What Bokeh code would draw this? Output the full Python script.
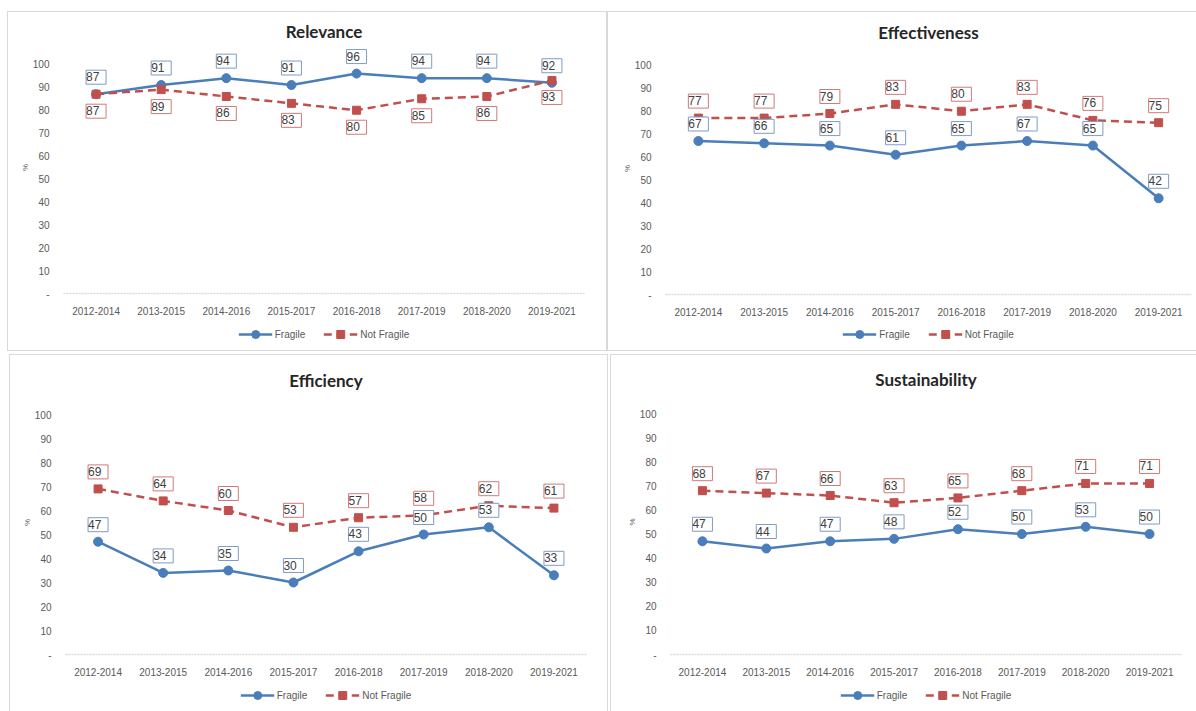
from bokeh.plotting import figure
from bokeh.models import (ColumnDataSource, FactorRange, Range1d, FixedTicker,
                          Legend, LegendItem, LabelSet)
from bokeh.layouts import column, row
from bokeh.embed import file_html
from bokeh.resources import INLINE
from bokeh.core.properties import value

# ---------------- data ----------------
periods = ["2012-2014", "2013-2015", "2014-2016", "2015-2017",
           "2016-2018", "2017-2019", "2018-2020", "2019-2021"]

relevance_fragile = [87, 91, 94, 91, 96, 94, 94, 92]
relevance_not_fragile = [87, 89, 86, 83, 80, 85, 86, 93]

effectiveness_fragile = [67, 66, 65, 61, 65, 67, 65, 42]
effectiveness_not_fragile = [77, 77, 79, 83, 80, 83, 76, 75]

efficiency_fragile = [47, 34, 35, 30, 43, 50, 53, 33]
efficiency_not_fragile = [69, 64, 60, 53, 57, 58, 62, 61]

sustainability_fragile = [47, 44, 47, 48, 52, 50, 53, 50]
sustainability_not_fragile = [68, 67, 66, 63, 65, 68, 71, 71]

y_ticks = [0, 10, 20, 30, 40, 50, 60, 70, 80, 90, 100]
series_names = ["Fragile", "Not Fragile"]

# ---------------- style ----------------
BLUE = "#4a7ebb"
RED = "#c0504d"
TEXT = "#404040"
AXIS_TXT = "#595959"
FONT = "Liberation Sans"
TITLE_FONT = "Lato"


def make_panel(title, fr, nf, w, h, mb_left, mb_right, mb_top, mb_bottom,
               nf_below, title_offset, margin, leg_h=32):
    p = figure(x_range=FactorRange(*periods), y_range=Range1d(0, 110),
               width=w, height=h - leg_h, output_backend="svg",
               toolbar_location=None,
               min_border_left=mb_left, min_border_right=mb_right,
               min_border_top=mb_top, min_border_bottom=mb_bottom,
               title=title)
    p.background_fill_color = "white"
    p.border_fill_color = "white"
    p.outline_line_color = None
    p.xgrid.visible = False
    p.ygrid.visible = False

    p.title.align = "center"
    p.title.standoff = 0
    p.title.offset = title_offset
    p.title.text_font = TITLE_FONT
    p.title.text_font_size = "17px"
    p.title.text_font_style = "bold"
    p.title.text_color = "#262626"

    ya = p.yaxis[0]
    ya.ticker = FixedTicker(ticks=y_ticks)
    ya.major_label_overrides = {0: "-"}
    ya.axis_line_color = None
    ya.major_tick_line_color = None
    ya.minor_tick_line_color = None
    ya.major_label_text_font = FONT
    ya.major_label_text_font_size = "10px"
    ya.major_label_text_color = AXIS_TXT
    ya.major_label_standoff = 8
    ya.axis_label = "%"
    ya.axis_label_text_font = FONT
    ya.axis_label_text_font_size = "8px"
    ya.axis_label_text_font_style = "normal"
    ya.axis_label_text_color = AXIS_TXT
    ya.axis_label_standoff = 0

    xa = p.xaxis[0]
    xa.axis_line_color = "#d9d9d9"
    xa.axis_line_width = 1.5
    xa.axis_line_dash = "2 1"
    xa.major_tick_line_color = None
    xa.minor_tick_line_color = None
    xa.major_label_text_font = FONT
    xa.major_label_text_font_size = "10px"
    xa.major_label_text_color = AXIS_TXT
    xa.major_label_standoff = 7

    src = ColumnDataSource(dict(x=periods, fr=fr, nf=nf,
                                fr_t=[" %d " % v for v in fr],
                                nf_t=[" %d " % v for v in nf]))

    p.line("x", "fr", source=src, line_color=BLUE, line_width=2.5)
    p.scatter("x", "fr", source=src, marker="circle", size=9,
              fill_color=BLUE, line_color=BLUE)
    p.line("x", "nf", source=src, line_color=RED, line_width=2.5,
           line_dash="8 5")
    p.scatter("x", "nf", source=src, marker="square", size=8,
              fill_color=RED, line_color=RED)

    common = dict(text_align="center", text_baseline="middle",
                  text_font=value(FONT), text_font_size="12px",
                  text_color=TEXT, background_fill_color="white",
                  source=src)
    p.add_layout(LabelSet(x="x", y="fr", text="fr_t", y_offset=17,
                          border_line_color="#7f9cc4", **common))
    p.add_layout(LabelSet(x="x", y="nf", text="nf_t",
                          y_offset=(-17 if nf_below else 17),
                          border_line_color="#d07a78", **common))

    # legend strip under the chart (legend-only renderers sit outside the view)
    lg = figure(width=w, height=leg_h, x_range=Range1d(0, 1),
                y_range=Range1d(0, 1), output_backend="svg",
                toolbar_location=None, x_axis_type=None, y_axis_type=None,
                min_border=0)
    lg.outline_line_color = None
    lg.xgrid.visible = False
    lg.ygrid.visible = False
    lg.background_fill_color = "white"
    lg.border_fill_color = "white"
    hidden = ColumnDataSource(dict(x=[-5.0], y=[-5.0]))
    g1 = lg.line("x", "y", source=hidden, line_color=BLUE, line_width=2.5)
    g2 = lg.scatter("x", "y", source=hidden, marker="circle", size=9,
                    fill_color=BLUE, line_color=BLUE)
    g3 = lg.line("x", "y", source=hidden, line_color=RED, line_width=2.5,
                 line_dash="8 5")
    g4 = lg.scatter("x", "y", source=hidden, marker="square", size=8,
                    fill_color=RED, line_color=RED)
    legend = Legend(items=[LegendItem(label=series_names[0], renderers=[g1, g2]),
                           LegendItem(label=series_names[1], renderers=[g3, g4])],
                    orientation="horizontal", location="center",
                    padding=2, spacing=18,
                    border_line_color=None, background_fill_alpha=0,
                    label_text_font=FONT, label_text_font_size="10px",
                    label_text_color=AXIS_TXT, glyph_width=34,
                    label_standoff=3)
    lg.add_layout(legend)

    return column(p, lg, margin=margin,
                  styles={"outline": "1px solid #d9d9d9"})


c1 = make_panel("Relevance", relevance_fragile, relevance_not_fragile,
                598, 338, 55, 22, 29, 25, True, -17, (12, 0, 0, 8))
c2 = make_panel("Effectiveness", effectiveness_fragile, effectiveness_not_fragile,
                588, 338, 57, 5, 30, 23, False, -15, (12, 0, 0, 2))
c3 = make_panel("Efficiency", efficiency_fragile, efficiency_not_fragile,
                597, 356, 55, 21, 35, 25, False, -19, (5, 0, 0, 10))
c4 = make_panel("Sustainability", sustainability_fragile, sustainability_not_fragile,
                585, 356, 59, 15, 34, 25, False, -16, (5, 0, 0, 4))

layout = column(row(c1, c2), row(c3, c4))

open("out.html", "w").write(file_html(layout, INLINE))
